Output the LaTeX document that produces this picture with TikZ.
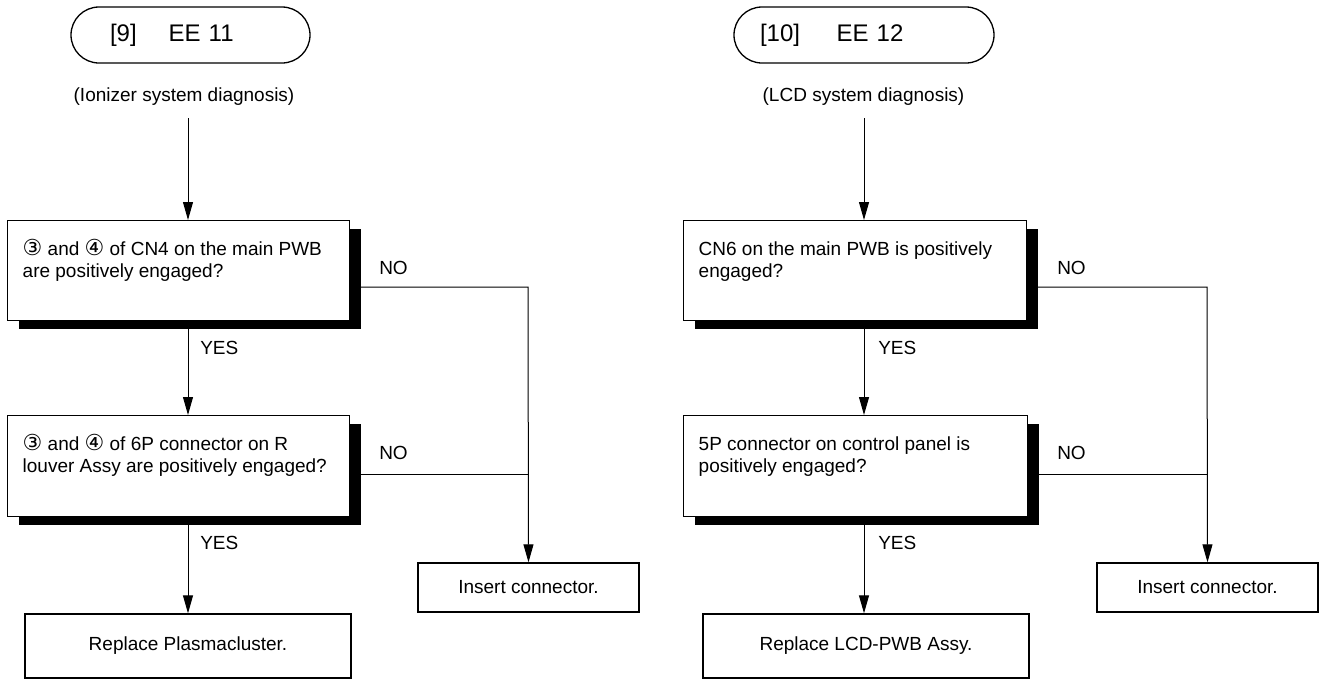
\documentclass[tikz,border=0pt]{standalone}
\usepackage{fontspec}
\setmainfont{Liberation Sans}
\newfontfamily\symfont{DejaVu Sans}
\usetikzlibrary{arrows.meta,shadows,calc}
\newdimen\PX \PX=0.75pt
\newcommand{\qtxt}[3]{\parbox[c][#2][t]{#1}{\leftskip=15\PX\rightskip=0pt plus 1fil\parindent=0pt\baselineskip=22\PX\rule{0pt}{35\PX}#3}}
\newcommand{\cc}[1]{{\fontsize{16.5pt}{16.5pt}\symfont #1}}
\tikzset{
  every node/.style={font=\fontsize{14.25pt}{16.5pt}\selectfont},
  term/.style={draw, line width=0.975pt, rounded corners=21pt, minimum height=42pt, align=left,
     font=\fontsize{18pt}{20pt}\selectfont},
  qbox/.style={draw, line width=1.05pt, fill=white, inner sep=0pt, anchor=north west,
     drop shadow={shadow xshift=8.25pt, shadow yshift=-6pt, fill=black, opacity=1}},
  endbox/.style={draw, line width=1.05pt, fill=white, inner sep=0pt},
  conn/.style={line width=0.75pt},
  arr/.style={conn, -{Triangle[length=13.5pt, width=7.5pt]}},
  lab/.style={anchor=west, inner sep=0pt},
}
\begin{document}
\begin{tikzpicture}[x=0.75pt, y=-0.75pt]
\useasboundingbox (0,0) rectangle (1322,686);

% ---------------- left chart ----------------
\node[term, text width=120.75pt, inner xsep=29.25pt] (t1) at (190.5,35) {[9]\hspace{24pt}EE 11};
\node (l1) at (184,97) {(Ionizer system diagnosis)};
\node[qbox] (b1) at (7,220) {\qtxt{342\PX}{100\PX}{\cc{③} and \cc{④} of CN4 on the main PWB\\are positively engaged?}};
\node[qbox] (b2) at (7,415) {\qtxt{342\PX}{101\PX}{\cc{③} and \cc{④} of 6P connector on R\\louver Assy are positively engaged?}};
\node[endbox, minimum width=244.5pt, minimum height=48pt] (r1) at (188,646) {Replace Plasmacluster.};
\node[endbox, minimum width=165.75pt, minimum height=36.75pt] (i1) at (528.5,587.5) {Insert connector.};

\coordinate (a1) at (188,118);
\coordinate (n1) at (528,287);
\coordinate (n2) at (528,474);
\draw[arr] (a1) -- (a1 |- b1.north);
\draw[arr] (b1.south -| a1) -- (a1 |- b2.north);
\draw[arr] (b2.south -| a1) -- (r1.north);
\draw[arr] (b1.east |- n1) -- (n1) -- (i1.north);
\draw[conn] (b2.east |- n2) -- (n2);
\node[lab] (y1) at (200,348) {YES};
\node[lab] (y2) at (200,543) {YES};
\node[lab] (o1) at (379,268) {NO};
\node[lab] (o2) at (379,453) {NO};

% ---------------- right chart ----------------
\node[term, text width=156pt, inner xsep=19.5pt] (t2) at (864,35) {[10]\hspace{27.5pt}EE 12};
\node (l2) at (863.5,97) {(LCD system diagnosis)};
\node[qbox] (b3) at (683,220) {\qtxt{343\PX}{100\PX}{CN6 on the main PWB is positively\\engaged?}};
\node[qbox] (b4) at (683,415) {\qtxt{344\PX}{101\PX}{5P connector on control panel is\\positively engaged?}};
\node[endbox, minimum width=244.5pt, minimum height=48pt] (r2) at (866,646) {Replace LCD-PWB Assy.};
\node[endbox, minimum width=165.75pt, minimum height=36.75pt] (i2) at (1207.5,587.5) {Insert connector.};

\coordinate (a2) at (864,118);
\coordinate (n3) at (1207,287);
\coordinate (n4) at (1207,474);
\draw[arr] (a2) -- (a2 |- b3.north);
\draw[arr] (b3.south -| a2) -- (a2 |- b4.north);
\draw[arr] (b4.south -| a2) -- (a2 |- r2.north);
\draw[arr] (b3.east |- n3) -- (n3) -- (i2.north);
\draw[conn] (b4.east |- n4) -- (n4);
\node[lab] (y3) at (878,348) {YES};
\node[lab] (y4) at (878,543) {YES};
\node[lab] (o3) at (1057,268) {NO};
\node[lab] (o4) at (1057,453) {NO};
\end{tikzpicture}
\end{document}
